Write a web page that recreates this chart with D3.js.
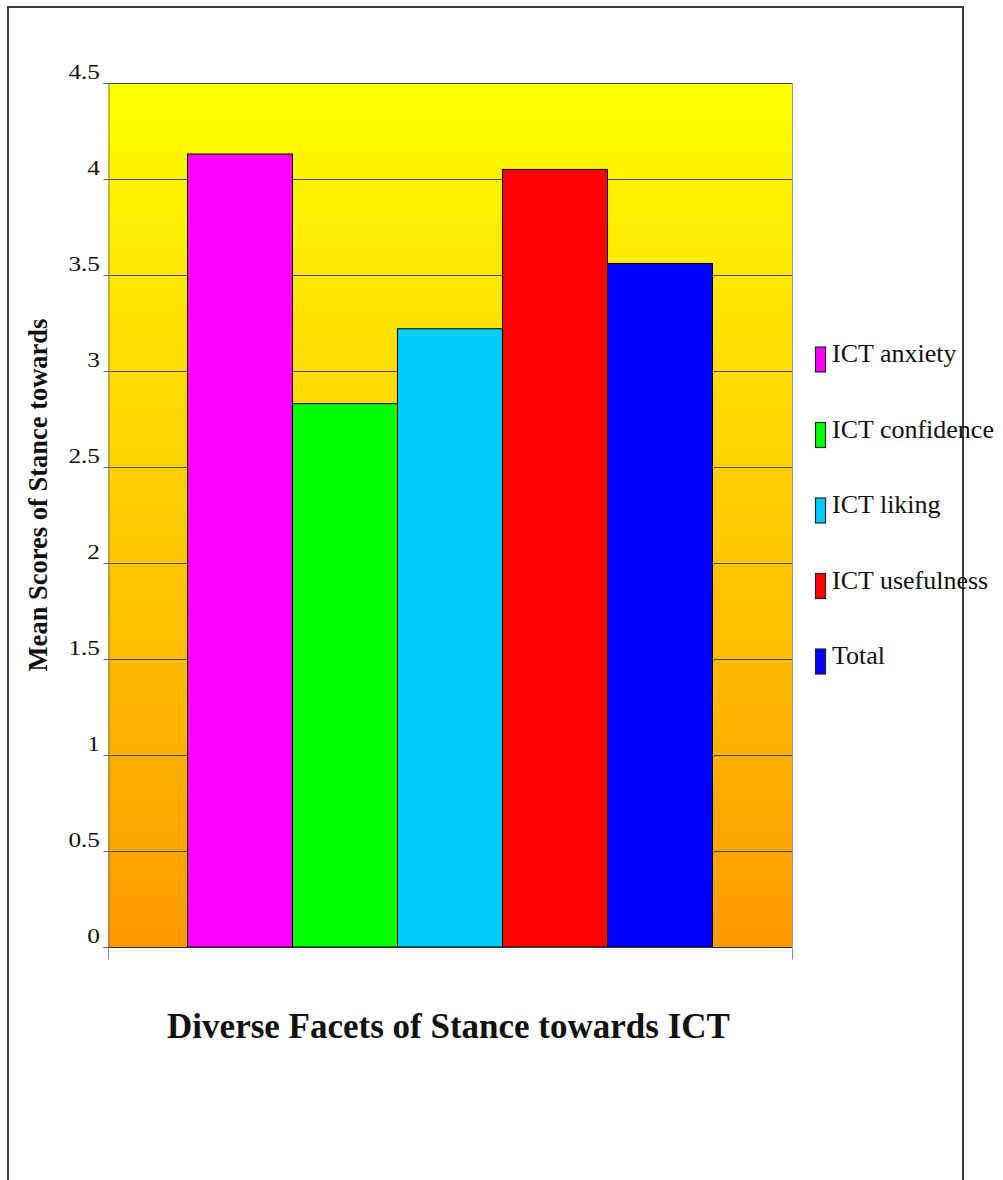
<!DOCTYPE html>
<html>
<head>
<meta charset="utf-8">
<script src="https://cdn.jsdelivr.net/npm/d3@7"></script>
<style>
  body { margin: 0; background: #fff; }
  text { font-family: "Liberation Serif", "Times New Roman", serif; }
</style>
</head>
<body>
<svg id="chart" width="1003" height="1180"></svg>
<script>
const series = ["ICT anxiety", "ICT confidence", "ICT liking", "ICT usefulness", "Total"];
const means = [4.13, 2.83, 3.22, 4.05, 3.56];
const colours = ["#ff00ff", "#00ff00", "#00ccff", "#ff0000", "#0000ff"];
const yTicks = [0, 0.5, 1, 1.5, 2, 2.5, 3, 3.5, 4, 4.5];

const svg = d3.select("#chart");
const plot = {left: 108, right: 792, top: 83, bottom: 947};

// outer frame (page border, open at the bottom)
svg.append("path")
    .attr("d", "M8,1180V7H963V1180")
    .attr("fill", "none")
    .attr("stroke", "#3a3a3a")
    .attr("stroke-width", 2);

const y = d3.scaleLinear().domain([0, 4.5]).range([plot.bottom, plot.top]);
const x = d3.scaleBand().domain(series)
    .range([plot.left, plot.right])
    .paddingInner(0)
    .paddingOuter(0.757);

const grad = svg.append("defs").append("linearGradient")
    .attr("id", "bg").attr("x1", 0).attr("y1", 0).attr("x2", 0).attr("y2", 1);
grad.append("stop").attr("offset", "0%").attr("stop-color", "#ffff00");
grad.append("stop").attr("offset", "100%").attr("stop-color", "#ff9900");

svg.append("rect")
    .attr("x", plot.left).attr("y", plot.top)
    .attr("width", plot.right - plot.left).attr("height", plot.bottom - plot.top)
    .attr("fill", "url(#bg)");

// gridlines
svg.append("g").selectAll("line")
    .data(yTicks.filter(d => d > 0))
    .join("line")
    .attr("x1", plot.left).attr("x2", plot.right)
    .attr("y1", d => Math.round(y(d)) + 0.5).attr("y2", d => Math.round(y(d)) + 0.5)
    .attr("stroke", "#4a4a4a").attr("stroke-width", 1.2);

// right plot edge
svg.append("line")
    .attr("x1", plot.right + 0.5).attr("x2", plot.right + 0.5)
    .attr("y1", plot.top).attr("y2", plot.bottom)
    .attr("stroke", "#9a9a9a");

// bars
svg.append("g").selectAll("rect")
    .data(series)
    .join("rect")
    .attr("x", d => x(d))
    .attr("y", (d, i) => y(means[i]))
    .attr("width", x.bandwidth())
    .attr("height", (d, i) => y(0) - y(means[i]))
    .attr("fill", (d, i) => colours[i])
    .attr("stroke", "#000")
    .attr("stroke-width", 1);

// y axis
const yAxis = svg.append("g")
    .attr("transform", `translate(${plot.left + 0.5},0)`)
    .call(d3.axisLeft(y).tickValues(yTicks).tickSize(5).tickFormat(d3.format("")));
yAxis.select(".domain").attr("stroke", "#7a7a7a");
yAxis.selectAll(".tick line").attr("stroke", "#666");
yAxis.selectAll(".tick text")
    .attr("x", null).attr("dy", null)
    .attr("transform", "translate(-8.5,-5) scale(1.15,1)")
    .attr("fill", "#111")
    .style("font-size", "22px")
    .style("font-family", "'Liberation Serif', 'Times New Roman', serif");

// x axis
const xAxis = svg.append("g")
    .attr("transform", `translate(0,${plot.bottom + 0.5})`);
xAxis.append("line")
    .attr("x1", plot.left).attr("x2", plot.right)
    .attr("stroke", "#333").attr("stroke-width", 1.2);
xAxis.selectAll("line.edge")
    .data([plot.left, plot.right])
    .join("line").attr("class", "edge")
    .attr("x1", d => d + 0.5).attr("x2", d => d + 0.5)
    .attr("y1", 0).attr("y2", 12)
    .attr("stroke", "#888");

// axis titles
svg.append("text")
    .attr("transform", "translate(47,495) rotate(-90)")
    .attr("text-anchor", "middle")
    .attr("font-weight", "bold")
    .attr("font-size", 26.5)
    .attr("fill", "#111")
    .text("Mean Scores of Stance towards");

svg.append("text")
    .attr("x", 448.5).attr("y", 1038)
    .attr("text-anchor", "middle")
    .attr("font-weight", "bold")
    .attr("font-size", 35)
    .attr("fill", "#111")
    .text("Diverse Facets of Stance towards ICT");

// legend
const legend = svg.append("g").selectAll("g")
    .data(series)
    .join("g")
    .attr("transform", (d, i) => `translate(815.5,${347 + i * 75.5})`);
legend.append("rect")
    .attr("width", 10).attr("height", 25)
    .attr("fill", (d, i) => colours[i])
    .attr("stroke", "#222").attr("stroke-width", 1.2);
legend.append("text")
    .attr("x", 16.5).attr("y", 15)
    .attr("font-size", 26)
    .attr("fill", "#111")
    .text(d => d);
</script>
</body>
</html>
